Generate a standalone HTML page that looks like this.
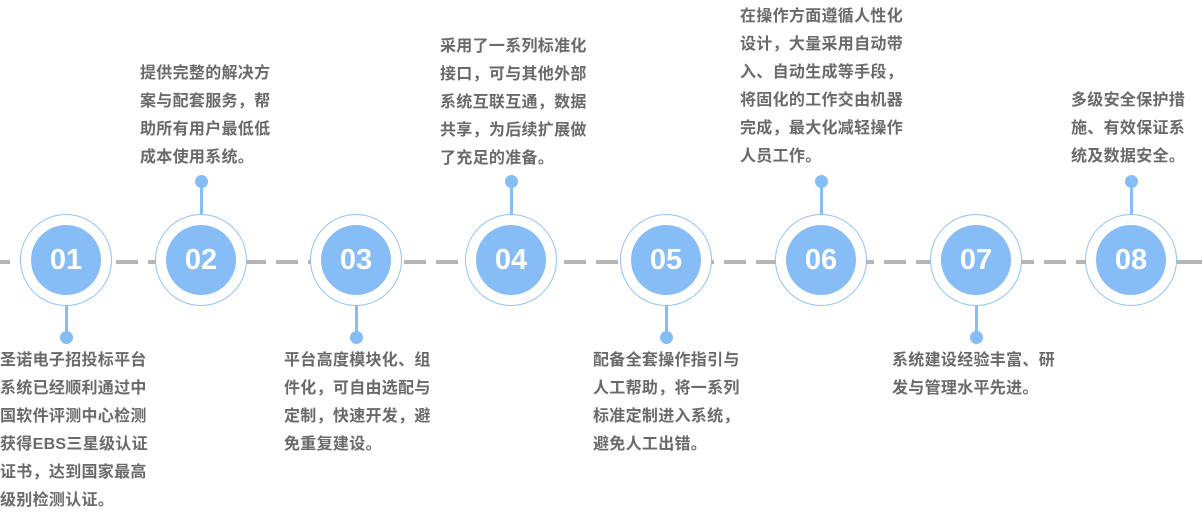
<!DOCTYPE html>
<html><head><meta charset="utf-8"><style>
body{margin:0;width:1202px;height:519px;background:#fff;position:relative;overflow:hidden;font-family:"Liberation Sans","Noto Sans CJK SC",sans-serif}
.line{position:absolute;left:0;top:260px;width:1202px;height:4px;background:repeating-linear-gradient(90deg,#b5b5b5 0 22px,transparent 22px 32px);background-position:-12px 0}
.n{position:absolute;width:70px;height:70px;border-radius:50%;background:#86bdf6;color:#fff;font-weight:bold;font-size:29px;line-height:70px;text-align:center;box-shadow:0 0 0 10px #fff,0 0 0 11px #8ec2f7;}
.s{position:absolute;width:3px;background:#86bdf6}
.d{position:absolute;width:13px;height:13px;border-radius:50%;background:#86bdf6}
.t{position:absolute;font-size:16px;line-height:28px;color:#6a6a6a;font-weight:bold;white-space:nowrap;letter-spacing:0.3px}
</style></head><body>
<div class="line"></div>
<!-- stems -->
<div class="s" style="left:65px;top:280px;height:57px"></div><div class="d" style="left:60px;top:331px"></div>
<div class="s" style="left:200px;top:181px;height:50px"></div><div class="d" style="left:195px;top:175px"></div>
<div class="s" style="left:355px;top:280px;height:57px"></div><div class="d" style="left:350px;top:331px"></div>
<div class="s" style="left:510px;top:181px;height:50px"></div><div class="d" style="left:505px;top:175px"></div>
<div class="s" style="left:665px;top:280px;height:57px"></div><div class="d" style="left:660px;top:331px"></div>
<div class="s" style="left:820px;top:181px;height:50px"></div><div class="d" style="left:815px;top:175px"></div>
<div class="s" style="left:975px;top:280px;height:57px"></div><div class="d" style="left:970px;top:331px"></div>
<div class="s" style="left:1130px;top:181px;height:50px"></div><div class="d" style="left:1125px;top:175px"></div>
<!-- circles -->
<div class="n" style="left:31px;top:225px">01</div>
<div class="n" style="left:166px;top:225px">02</div>
<div class="n" style="left:321px;top:225px">03</div>
<div class="n" style="left:476px;top:225px">04</div>
<div class="n" style="left:631px;top:225px">05</div>
<div class="n" style="left:786px;top:225px">06</div>
<div class="n" style="left:941px;top:225px">07</div>
<div class="n" style="left:1096px;top:225px">08</div>
<!-- texts -->
<div class="t" style="left:0;top:347px">圣诺电子招投标平台<br>系统已经顺利通过中<br>国软件评测中心检测<br>获得EBS三星级认证<br>证书，达到国家最高<br>级别检测认证。</div>
<div class="t" style="left:140px;top:60px">提供完整的解决方<br>案与配套服务，帮<br>助所有用户最低低<br>成本使用系统。</div>
<div class="t" style="left:284px;top:347px">平台高度模块化、组<br>件化，可自由选配与<br>定制，快速开发，避<br>免重复建设。</div>
<div class="t" style="left:440px;top:33px">采用了一系列标准化<br>接口，可与其他外部<br>系统互联互通，数据<br>共享，为后续扩展做<br>了充足的准备。</div>
<div class="t" style="left:593px;top:347px">配备全套操作指引与<br>人工帮助，将一系列<br>标准定制进入系统，<br>避免人工出错。</div>
<div class="t" style="left:740px;top:3px">在操作方面遵循人性化<br>设计，大量采用自动带<br>入、自动生成等手段，<br>将固化的工作交由机器<br>完成，最大化减轻操作<br>人员工作。</div>
<div class="t" style="left:892px;top:347px">系统建设经验丰富、研<br>发与管理水平先进。</div>
<div class="t" style="left:1071px;top:87px">多级安全保护措<br>施、有效保证系<br>统及数据安全。</div>
</body></html>
